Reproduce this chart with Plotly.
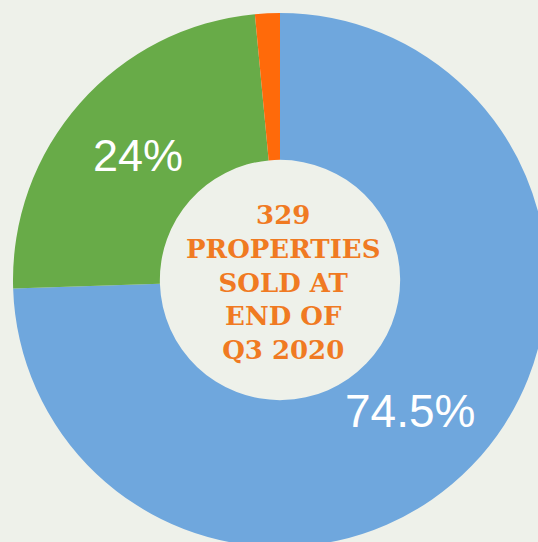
import plotly.graph_objects as go

labels = ["Sold A", "Sold B", "Other"]
values = [74.5, 24, 1.5]
colors = ["#6fa7dd", "#68ab48", "#ff6a0a"]
label_text = ["74.5%", "24%", ""]
center_lines = ["329", "PROPERTIES", "SOLD AT", "END OF", "Q3 2020"]

W = H = 560
fig = go.Figure()
fig.add_trace(go.Pie(
    labels=labels,
    values=values,
    sort=False,
    direction="clockwise",
    rotation=0,
    hole=0.45,
    marker=dict(colors=colors, line=dict(width=0)),
    textinfo="none",
    hoverinfo="skip",
    showlegend=False,
    domain=dict(x=[13 / W, 547 / W], y=[13 / H, 547 / H]),
))

# slice labels
fig.add_annotation(x=138 / W, y=1 - 155 / H, xref="paper", yref="paper",
                   xanchor="center", yanchor="middle",
                   text=label_text[1], showarrow=False,
                   font=dict(family="Liberation Sans, Arial", size=45, color="white"))
fig.add_annotation(x=410 / W, y=1 - 411 / H, xref="paper", yref="paper",
                   xanchor="center", yanchor="middle",
                   text=label_text[0], showarrow=False,
                   font=dict(family="Liberation Sans, Arial", size=46, color="white"))

# center text
fig.add_annotation(x=283 / W, y=1 - 282 / H, xref="paper", yref="paper",
                   xanchor="center", yanchor="middle",
                   text="<b>" + "<br>".join(center_lines) + "</b>", showarrow=False, align="center",
                   font=dict(family="DejaVu Serif", size=26, color="#f07a22"))

fig.update_layout(
    width=W, height=H,
    margin=dict(l=0, r=0, t=0, b=0),
    paper_bgcolor="#eef1ea",
    plot_bgcolor="#eef1ea",
)

fig.write_html("out.html", config={"displayModeBar": False},
               post_script="document.body.style.overflow='hidden';document.documentElement.style.overflow='hidden';document.body.style.margin='0';")
